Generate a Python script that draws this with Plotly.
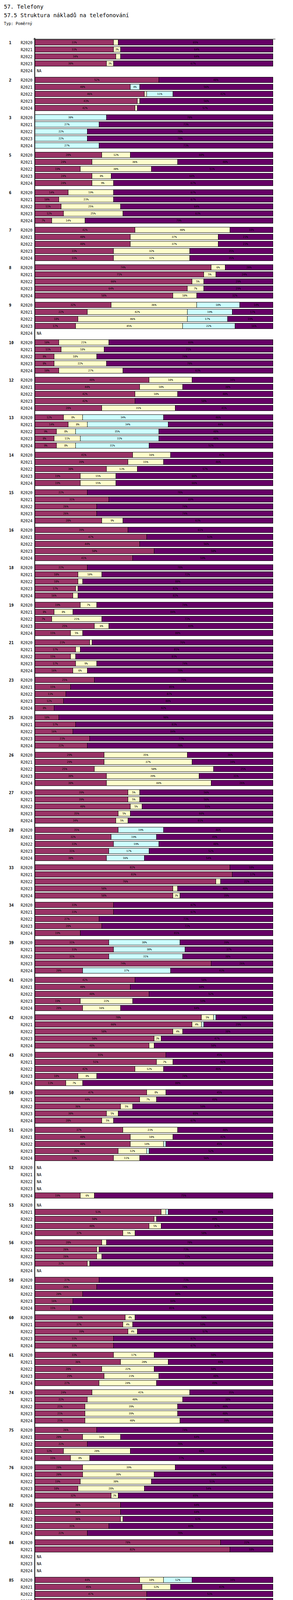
import plotly.graph_objects as go

GROUP_IDS = [1,2,3,5,6,7,8,9,10,12,13,14,15,16,18,19,21,23,25,26,27,28,33,34,39,41,42,43,50,51,
             52,53,56,58,60,61,74,75,76,82,84,85,86,88,89,90,93,96,100,101,102,106,111,112,113,114,115,118,121,122,
             125,126,129,130,131,132,134,135,136,138,139,140,141,144,145,146,147,151,152,153]
YEARS = ["R2020", "R2021", "R2022", "R2023", "R2024"]

# each group: 5 rows "fixed switch reserved mobile" or NA
ROWS = [
"33 2 0 65|33 3 0 64|34 2 0 64|30 3 0 67|NA",
"52 0 0 48|40 0 4 56|46 1 11 42|43 1 0 56|42 1 0 57",
"0 0 30 70|0 0 27 73|0 0 22 78|0 0 22 78|0 0 27 73",
"28 12 0 60|24 36 0 40|19 30 0 51|24 8 0 68|24 9 0 67",
"14 19 0 67|10 23 0 67|11 25 0 64|12 25 0 63|7 14 0 79",
"42 40 0 18|40 37 0 23|40 37 0 23|33 32 0 35|33 32 0 35",
"74 6 0 20|71 5 0 24|66 5 0 29|64 7 0 29|58 10 0 32",
"32 36 18 14|22 42 19 17|18 46 17 19|17 45 22 16|NA",
"10 21 0 69|11 18 0 71|8 18 0 74|8 22 0 70|10 27 0 63",
"48 18 0 34|44 18 0 38|42 18 0 40|42 0 0 58|28 31 0 41",
"12 8 34 46|14 8 34 44|9 8 35 48|8 11 33 48|9 8 31 52",
"41 16 0 43|39 15 0 46|30 13 0 57|19 15 0 66|19 15 0 66",
"22 0 0 78|31 0 0 69|26 0 0 74|26 0 0 74|28 9 0 63",
"39 0 0 61|47 0 0 53|44 0 0 56|50 0 0 50|41 0 0 59",
"22 0 0 78|18 10 0 72|18 2 0 80|17 1 0 82|16 2 0 82",
"19 7 0 74|8 8 0 84|7 21 0 72|25 6 0 69|15 5 0 80",
"23 1 0 76|17 2 0 81|15 2 0 83|17 9 0 74|16 6 0 78",
"25 0 0 75|15 0 0 85|13 0 0 87|12 0 0 88|8 0 0 92",
"10 0 0 90|17 0 0 83|16 0 0 84|23 0 0 77|22 0 0 78",
"29 35 0 36|29 37 0 34|25 50 0 25|30 39 0 31|30 44 0 26",
"39 5 0 56|39 5 0 56|40 5 0 55|35 5 0 60|34 5 0 61",
"35 0 19 46|32 0 19 49|33 0 19 48|31 0 17 52|30 0 16 54",
"82 0 0 18|83 0 0 17|76 2 0 22|58 2 0 40|58 3 0 39",
"33 0 0 67|33 0 0 67|27 0 0 73|28 0 0 72|19 0 0 81",
"31 0 30 39|33 0 30 37|31 0 31 38|74 0 0 26|20 0 37 43",
"42 0 0 58|40 0 0 60|48 0 0 52|19 22 0 59|20 16 0 64",
"70 5 1 24|66 4 1 29|58 4 0 38|50 3 0 47|48 2 0 50",
"55 0 0 45|51 7 0 42|42 12 0 46|18 8 0 74|13 7 0 80",
"47 8 0 45|44 7 0 49|36 5 0 59|30 5 0 65|28 5 0 67",
"37 23 0 40|40 18 0 42|40 14 1 45|35 12 1 52|33 11 0 56",
"NA|NA|NA|NA|19 6 0 75",
"NA|53 2 1 44|50 1 0 49|48 5 0 47|37 5 0 58",
"28 2 0 70|26 1 0 73|26 2 0 72|22 1 0 77|NA",
"27 0 0 73|26 0 0 74|20 0 0 80|16 0 0 84|15 0 0 85",
"38 4 0 58|37 4 0 59|39 4 0 57|33 0 0 67|33 0 0 67",
"33 17 0 50|36 20 0 44|28 22 0 50|29 23 0 48|27 24 0 49",
"24 41 0 35|22 40 0 38|21 39 0 40|21 39 0 40|21 40 0 39",
"26 0 0 74|20 16 0 64|22 0 0 78|12 28 0 60|15 8 0 77",
"20 39 0 41|20 30 0 50|19 30 0 51|18 28 0 54|32 3 0 65",
"36 0 0 64|36 0 0 64|36 1 0 63|31 0 0 69|22 0 0 78",
"78 0 0 22|82 0 0 18|NA|NA|NA",
"44 10 12 34|45 12 0 43|47 0 0 53|47 0 0 53|35 13 3 49",
"29 4 0 67|28 0 0 72|29 0 0 71|28 0 0 72|23 0 0 77",
"40 0 0 60|38 0 0 62|38 0 0 62|31 0 0 69|24 1 0 75",
"33 0 0 67|31 6 0 63|24 6 0 70|15 6 0 79|8 5 0 87",
"22 14 32 32|26 4 38 32|23 4 38 35|16 33 27 24|16 33 24 27",
"54 0 0 46|52 0 0 48|50 0 0 50|44 0 0 56|39 0 0 61",
"14 19 0 67|12 19 0 69|12 18 0 70|12 21 0 67|12 20 0 68",
"59 0 0 41|46 0 0 54|NA|NA|36 0 0 64",
"29 0 0 71|30 0 0 70|29 0 0 71|3 2 0 95|35 0 0 65",
"7 45 0 48|48 38 0 14|40 40 0 20|32 38 0 30|34 28 0 38",
"50 0 0 50|49 0 0 51|48 0 0 52|58 1 0 41|42 0 0 58",
"30 0 0 70|38 0 0 62|33 0 0 67|6 0 0 94|6 0 0 94",
"16 4 0 80|12 3 0 85|12 4 0 84|10 4 0 86|5 1 0 94",
"12 5 0 83|10 7 0 83|5 7 0 88|5 10 0 85|4 10 0 86",
"33 0 0 67|31 0 0 69|33 0 0 67|29 9 0 62|33 0 0 67",
"37 0 0 63|36 0 0 64|34 0 0 66|31 0 0 69|32 0 0 68",
"31 0 0 69|35 0 0 65|29 0 0 71|29 0 0 71|24 0 0 76",
"39 28 0 33|41 5 0 54|38 21 0 41|47 3 0 50|44 2 0 54",
"63 6 0 31|NA|59 16 0 25|65 3 0 32|66 0 0 34",
"26 0 11 63|20 0 11 69|21 0 11 68|28 0 0 72|12 0 0 88",
"34 20 12 34|37 13 13 37|31 15 23 31|36 13 16 35|32 18 19 31",
"NA|NA|NA|24 4 0 72|21 4 0 75",
"21 22 0 57|21 21 0 58|20 21 0 59|19 20 0 61|NA",
"2 1 0 97|3 5 0 92|1 5 0 94|1 5 0 94|0 5 0 95",
"25 0 0 75|24 0 0 76|20 0 0 80|21 0 0 79|13 0 0 87",
"40 18 0 42|25 28 0 47|19 28 0 53|19 23 0 58|10 13 0 77",
"13 0 0 87|0 2 0 98|7 0 0 93|7 3 0 90|48 1 0 51",
"45 3 0 52|47 2 0 51|44 2 0 54|47 2 0 51|41 1 0 58",
"12 12 0 76|12 0 0 88|11 0 0 89|11 0 0 89|10 0 0 90",
"25 35 0 40|25 30 0 45|23 32 0 45|22 28 0 50|23 29 0 48",
"23 14 0 63|25 0 0 75|15 0 2 83|14 0 0 86|15 0 0 85",
"25 0 0 75|27 5 0 68|25 4 0 71|18 2 0 80|14 2 0 84",
"NA|25 8 0 67|17 10 0 73|17 10 0 73|15 10 0 75",
"NA|NA|35 3 0 62|40 0 0 60|38 0 0 62",
"NA|NA|18 0 0 82|16 3 0 81|0 2 0 98",
"NA|NA|36 7 0 57|29 8 0 63|30 8 0 62",
"NA|NA|NA|0 0 0 100|NA",
"NA|NA|NA|11 18 0 71|10 18 0 72",
"NA|NA|NA|NA|13 8 0 79",
]

SERIES_NAMES = [
    "Celkové výdaje v tis. Kč na používání telefonů bez soukromých hovorů (pevná linka)",
    "Celkové výdaje v tis. Kč na provoz ústředen (BEZ TELEFONNÍCH HOVORŮ)",
    "Výdaje na VYHRAZENÉ TELEFONNÍ okruhy v tis. Kč",
    "Celkové výdaje v tis. Kč na úhradu tel. hovorů (mobilní telefony) včetně GSM brány",
]
COLORS = ["#993366", "#FFFFCC", "#CCFFFF", "#660066"]
PERIODS = ["Období[R2020]: Realita - 2020", "Období[R2021]: Realita - 2021",
           "Období[R2022]: Realita - 2022", "Období[R2023]: Realita - 2023",
           "Období[R2024]: Realita - 2024"]

FIXED, SWITCH, RESERVED, MOBILE = [], [], [], []
for g in ROWS:
    for r in g.split("|"):
        vals = [None] * 4 if r == "NA" else [int(v) for v in r.split()]
        for arr, v in zip((FIXED, SWITCH, RESERVED, MOBILE), vals):
            arr.append(v)
SERIES = [FIXED, SWITCH, RESERVED, MOBILE]

W, H = 750, 7982
Y0, GROUP_H, ROW_H = 101, 96, 18
ypos = [Y0 + gi * GROUP_H + ri * ROW_H for gi in range(len(GROUP_IDS)) for ri in range(5)]
ylabels = YEARS * len(GROUP_IDS)
AX_TOP = 92
AX_BOT = ypos[-1] + 16
X0, X1 = 82, 691
MONO = "DejaVu Sans Mono"

fig = go.Figure()
for name, col, arr in zip(SERIES_NAMES, COLORS, SERIES):
    fig.add_trace(go.Bar(
        x=[v if v else None for v in arr], y=ypos, orientation="h", width=14, name=name,
        marker=dict(color=col, line=dict(color="black", width=1)),
        text=[f"{v}%" if (v and v >= 3) else "" for v in arr], textposition="inside",
        insidetextanchor="middle", textangle=0,
        textfont=dict(family=MONO, size=9, color="black"),
        showlegend=False, hoverinfo="x+name"))

ann, shapes = [], []
for gi, gid in enumerate(GROUP_IDS):
    ann.append(dict(x=13 / W, xref="paper", y=Y0 + gi * GROUP_H, yref="y", text=f"<b>{gid}</b>",
                    showarrow=False, font=dict(family=MONO, size=10, color="black")))
for i, y in enumerate(ypos):
    if FIXED[i] is None:
        ann.append(dict(x=84 / W, xref="paper", y=y, yref="y", text="NA", xanchor="left",
                        showarrow=False, font=dict(family=MONO, size=10, color="black")))

ann += [
    dict(x=0, xref="paper", y=9, yref="y", text="57. Telefony", xanchor="left", showarrow=False,
         font=dict(family=MONO, size=14, color="black")),
    dict(x=0, xref="paper", y=31, yref="y", text="57.5 Struktura nákladů na telefonování", xanchor="left",
         showarrow=False, font=dict(family=MONO, size=14, color="black")),
    dict(x=0, xref="paper", y=52, yref="y", text="Typ: Poměrný", xanchor="left", showarrow=False,
         font=dict(family=MONO, size=10, color="black")),
]
shapes.append(dict(type="line", xref="paper", yref="y", x0=81 / W, x1=81 / W, y0=AX_TOP - 3, y1=AX_BOT,
                   line=dict(color="black", width=2)))
shapes.append(dict(type="line", xref="paper", yref="y", x0=77 / W, x1=697 / W, y0=AX_TOP, y1=AX_TOP,
                   line=dict(color="black", width=1)))
LEG_Y = AX_BOT + 26
for i, (name, col) in enumerate(zip(SERIES_NAMES, COLORS)):
    y = LEG_Y + i * 20
    shapes.append(dict(type="rect", xref="paper", yref="y", x0=46 / W, x1=53 / W, y0=y - 4, y1=y + 4,
                       fillcolor=col, line=dict(color="black", width=1)))
    ann.append(dict(x=59 / W, xref="paper", y=y, yref="y", text=name, xanchor="left", showarrow=False,
                    font=dict(family=MONO, size=10, color="black")))
PER_Y = LEG_Y + 4 * 20 + 5
for i, p in enumerate(PERIODS):
    ann.append(dict(x=(80 if i % 2 == 0 else 385) / W, xref="paper", y=PER_Y + (i // 2) * 20, yref="y",
                    text=p, xanchor="left", showarrow=False, font=dict(family=MONO, size=10, color="black")))

fig.update_layout(
    width=W, height=H, margin=dict(l=0, r=0, t=0, b=0), barmode="stack", bargap=0,
    plot_bgcolor="white", paper_bgcolor="white",
    xaxis=dict(domain=[X0 / W, X1 / W], range=[0, 100], showgrid=False, showticklabels=False,
               zeroline=False, fixedrange=True),
    yaxis=dict(range=[H, 0], domain=[0, 1], tickvals=ypos, ticktext=ylabels, showgrid=False,
               zeroline=False, ticks="", ticklabelstandoff=6,
               tickfont=dict(family=MONO, size=10, color="black")),
    annotations=ann, shapes=shapes, font=dict(family=MONO),
)
fig.write_html("out.html")
